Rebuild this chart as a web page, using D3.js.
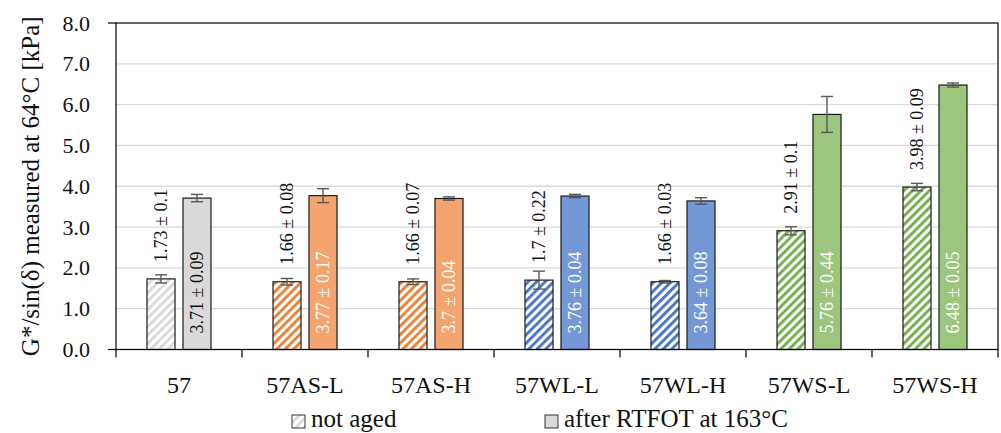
<!DOCTYPE html>
<html>
<head>
<meta charset="utf-8">
<script src="https://cdn.jsdelivr.net/npm/d3@7"></script>
<style>
  body { margin: 0; background: #fff; }
  svg text { font-family: "Liberation Serif", "Times New Roman", serif; }
</style>
</head>
<body>
<div id="chart"></div>
<script>
// values
const categories = ["57", "57AS-L", "57AS-H", "57WL-L", "57WL-H", "57WS-L", "57WS-H"];
const notAged   = [1.73, 1.66, 1.66, 1.7, 1.66, 2.91, 3.98];
const notAgedSd = [0.1, 0.08, 0.07, 0.22, 0.03, 0.1, 0.09];
const aged      = [3.71, 3.77, 3.7, 3.76, 3.64, 5.76, 6.48];
const agedSd    = [0.09, 0.17, 0.04, 0.04, 0.08, 0.44, 0.05];
const yTicks    = [0, 1, 2, 3, 4, 5, 6, 7, 8];
const series    = ["not aged", "after RTFOT at 163°C"];

// colours per category: stripe colour (not aged) and fill (aged)
const stripeColor = ["#d9d9d9", "#ed7d31", "#ed7d31", "#4472c4", "#4472c4", "#70ad47", "#70ad47"];
const fillColor   = ["#d9d9d9", "#f4a46f", "#f4a46f", "#7498d6", "#7498d6", "#9cc57d", "#9cc57d"];

const serif = "'Liberation Serif', 'Times New Roman', serif";
const width = 1001, height = 433;
const margin = {top: 23, right: 3, bottom: 83.5, left: 116};

const svg = d3.select("#chart").append("svg")
  .attr("width", width)
  .attr("height", height)
  .style("font-family", serif);

const defs = svg.append("defs");
stripeColor.forEach((c, i) => {
  const p = defs.append("pattern")
    .attr("id", "hatch" + i)
    .attr("patternUnits", "userSpaceOnUse")
    .attr("width", 6).attr("height", 6)
    .attr("patternTransform", "rotate(45)");
  p.append("rect").attr("width", 6).attr("height", 6).attr("fill", "#fff");
  p.append("rect").attr("width", 2.8).attr("height", 6).attr("fill", c);
});

const x0 = d3.scaleBand()
  .domain(categories)
  .range([margin.left, width - margin.right])
  .padding(0);
const x1 = d3.scaleBand()
  .domain(series)
  .range([x0.bandwidth() / 2 - 32, x0.bandwidth() / 2 + 32])
  .paddingInner(0.222);
const y = d3.scaleLinear()
  .domain([0, 8])
  .range([height - margin.bottom, margin.top]);

// gridlines
svg.append("g")
  .selectAll("line")
  .data(yTicks.slice(1, -1))
  .enter().append("line")
  .attr("x1", margin.left).attr("x2", width - margin.right)
  .attr("y1", d => y(d)).attr("y2", d => y(d))
  .attr("stroke", "#d9d9d9").attr("stroke-width", 1.3);

// bars
const rows = categories.map((c, i) => ({
  cat: c, i,
  vals: [
    {s: series[0], v: notAged[i], sd: notAgedSd[i]},
    {s: series[1], v: aged[i], sd: agedSd[i]}
  ]
}));

const groups = svg.append("g").selectAll("g")
  .data(rows)
  .enter().append("g")
  .attr("transform", d => `translate(${x0(d.cat)},0)`);

groups.selectAll("rect")
  .data(d => d.vals.map(v => ({...v, i: d.i})))
  .enter().append("rect")
  .attr("x", d => x1(d.s))
  .attr("y", d => y(d.v))
  .attr("width", x1.bandwidth())
  .attr("height", d => y(0) - y(d.v))
  .attr("fill", d => d.s === series[0] ? `url(#hatch${d.i})` : fillColor[d.i])
  .attr("stroke", "#1a1a1a")
  .attr("stroke-width", 1.2);

// error bars
const eb = groups.selectAll("g.err")
  .data(d => d.vals)
  .enter().append("g")
  .attr("class", "err")
  .attr("stroke", "#595959")
  .attr("stroke-width", 1.4);
eb.append("line")
  .attr("x1", d => x1(d.s) + x1.bandwidth() / 2)
  .attr("x2", d => x1(d.s) + x1.bandwidth() / 2)
  .attr("y1", d => y(d.v - d.sd))
  .attr("y2", d => y(d.v + d.sd));
[-1, 1].forEach(k => {
  eb.append("line")
    .attr("x1", d => x1(d.s) + x1.bandwidth() / 2 - 6)
    .attr("x2", d => x1(d.s) + x1.bandwidth() / 2 + 6)
    .attr("y1", d => y(d.v + k * d.sd))
    .attr("y2", d => y(d.v + k * d.sd));
});

// value labels
groups.each(function(d) {
  const g = d3.select(this);
  const a = d.vals[0], b = d.vals[1];
  const cxA = x1(a.s) + x1.bandwidth() / 2;
  const cxB = x1(b.s) + x1.bandwidth() / 2;
  g.append("text")
    .attr("transform", `translate(${cxA},${y(a.v) - 17}) rotate(-90)`)
    .attr("dy", "0.35em")
    .style("font-family", serif)
    .style("font-size", "18px")
    .attr("fill", "#111")
    .text(`${a.v} ± ${a.sd}`);
  g.append("text")
    .attr("transform", `translate(${cxB},${y(0) - 16}) rotate(-90)`)
    .attr("dy", "0.35em")
    .style("font-family", serif)
    .style("font-size", "18px")
    .attr("fill", d.i === 0 ? "#111" : "#fff")
    .text(`${b.v} ± ${b.sd}`);
});

// plot frame
svg.append("rect")
  .attr("x", margin.left).attr("y", margin.top)
  .attr("width", width - margin.right - margin.left)
  .attr("height", y(0) - margin.top)
  .attr("fill", "none")
  .attr("stroke", "#000").attr("stroke-width", 1.2);

// y axis
const yAxis = svg.append("g")
  .attr("transform", `translate(${margin.left},0)`)
  .call(d3.axisLeft(y).tickValues(yTicks).tickFormat(d3.format(".1f")).tickSize(0).tickPadding(26));
yAxis.select(".domain").remove();
yAxis.attr("font-family", null);
yAxis.selectAll("text").style("font-size", "22px").attr("fill", "#111")
  .style("font-family", serif);
[0, 8].forEach(v => {
  svg.append("line")
    .attr("x1", margin.left - 8).attr("x2", margin.left)
    .attr("y1", y(v)).attr("y2", y(v))
    .attr("stroke", "#000").attr("stroke-width", 1.2);
});

// x axis
const xAxis = svg.append("g")
  .attr("transform", `translate(0,${y(0)})`)
  .call(d3.axisBottom(x0).tickSize(0).tickPadding(26));
xAxis.select(".domain").remove();
xAxis.attr("font-family", null);
xAxis.selectAll("text").style("font-size", "24px").attr("fill", "#111")
  .style("font-family", serif);
svg.append("g").selectAll("line")
  .data(categories.concat([null]))
  .enter().append("line")
  .attr("x1", (d, i) => margin.left + i * x0.step())
  .attr("x2", (d, i) => margin.left + i * x0.step())
  .attr("y1", y(0)).attr("y2", y(0) + 8)
  .attr("stroke", "#000").attr("stroke-width", 1.2);

// y axis title
svg.append("text")
  .attr("transform", `translate(30,${(margin.top + y(0)) / 2}) rotate(-90)`)
  .attr("text-anchor", "middle")
  .attr("dy", "0.35em")
  .style("font-size", "25px")
  .attr("fill", "#111")
  .text("G*/sin(δ) measured at 64°C [kPa]");

// legend
const legendX = [292, 545];
series.forEach((s, k) => {
  svg.append("rect")
    .attr("x", legendX[k]).attr("y", 415)
    .attr("width", 13).attr("height", 13)
    .attr("fill", k === 0 ? "url(#hatch0)" : fillColor[0])
    .attr("stroke", "#333").attr("stroke-width", 1);
  svg.append("text")
    .attr("x", legendX[k] + 19).attr("y", 427)
    .style("font-size", "25px")
    .attr("fill", "#111")
    .text(s);
});
</script>
</body>
</html>
